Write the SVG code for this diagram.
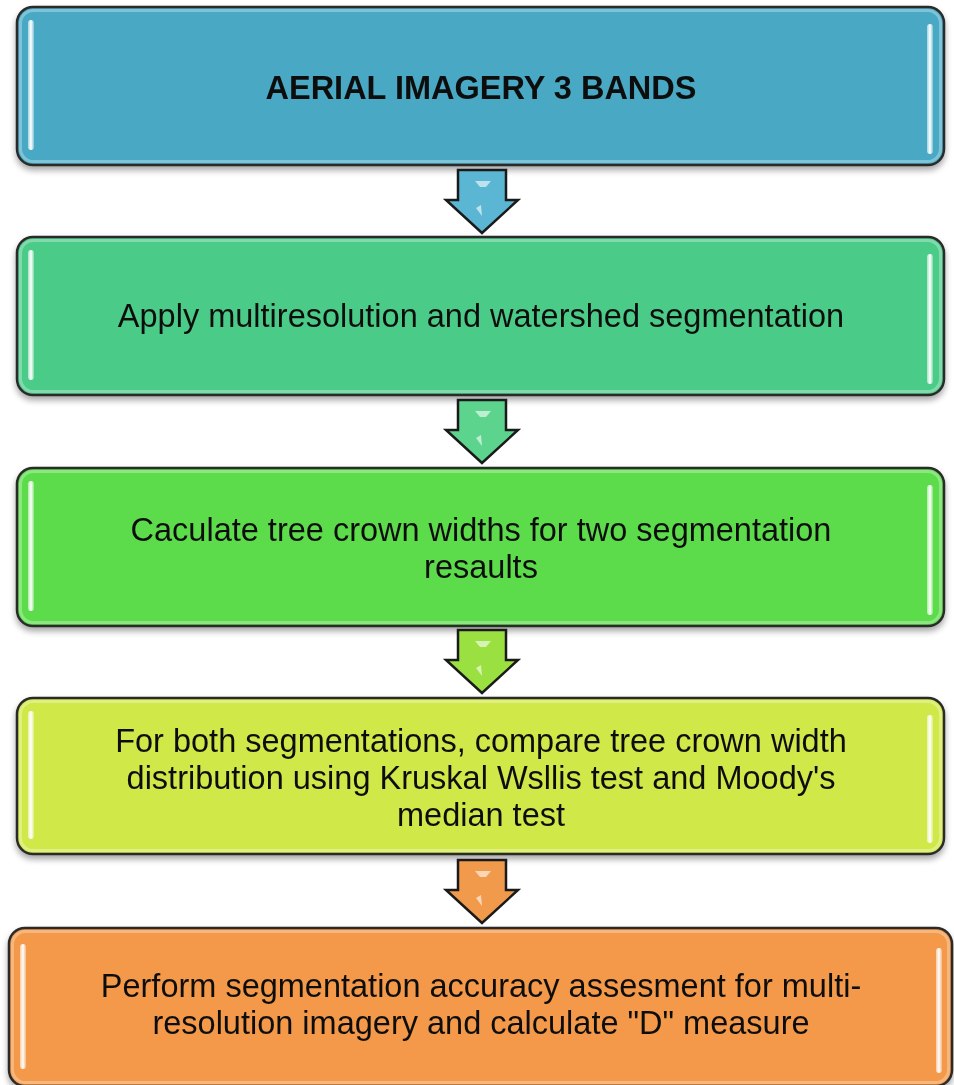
<svg xmlns="http://www.w3.org/2000/svg" width="954" height="1085" viewBox="0 0 954 1085">
<defs>
<filter id="sh" x="-5%" y="-10%" width="110%" height="130%">
<feGaussianBlur in="SourceAlpha" stdDeviation="3"/>
<feOffset dx="0" dy="4" result="b"/>
<feComponentTransfer><feFuncA type="linear" slope="0.35"/></feComponentTransfer>
<feMerge><feMergeNode/><feMergeNode in="SourceGraphic"/></feMerge>
</filter>
<linearGradient id="hl" x1="0" y1="0" x2="1" y2="0">
<stop offset="0" stop-color="#ffffff" stop-opacity="0.5"/>
<stop offset="0.5" stop-color="#ffffff" stop-opacity="1"/>
<stop offset="1" stop-color="#ffffff" stop-opacity="0.3"/>
</linearGradient>
</defs>
<style>
.box{stroke:#2b2b2b;stroke-width:2.5}
.rim{fill:none;stroke:#ffffff;stroke-opacity:0.3;stroke-width:3}
.hl{fill:url(#hl)}
.t{font-family:"Liberation Sans",Arial,sans-serif;font-size:32.5px;fill:#111;text-anchor:middle}
.tb{font-family:"Liberation Sans",Arial,sans-serif;font-size:32.5px;font-weight:bold;fill:#111;text-anchor:middle}
.arr{stroke:#1a1a1a;stroke-width:2.5;stroke-linejoin:miter}
.ahl{fill:#ffffff;fill-opacity:0.6}
</style>
<rect width="954" height="1085" fill="#ffffff"/>

<g id="n1" filter="url(#sh)">
<rect class="box" x="17" y="7" width="927" height="158" rx="16" fill="#48a9c4"/>
<rect class="rim" x="20.5" y="10.5" width="920" height="151" rx="13"/>
<rect class="hl" x="28" y="20" width="6" height="130" rx="3"/>
<rect class="hl" x="927" y="24" width="6" height="130" rx="3"/>
<text class="tb" x="481" y="99">AERIAL IMAGERY 3 BANDS</text>
</g>

<g id="n2" filter="url(#sh)">
<rect class="box" x="17" y="237" width="927" height="158" rx="16" fill="#4ccb88"/>
<rect class="rim" x="20.5" y="240.5" width="920" height="151" rx="13"/>
<rect class="hl" x="28" y="250" width="6" height="130" rx="3"/>
<rect class="hl" x="927" y="254" width="6" height="130" rx="3"/>
<text class="t" x="481" y="327">Apply multiresolution and watershed segmentation</text>
</g>

<g id="n3" filter="url(#sh)">
<rect class="box" x="17" y="468" width="927" height="158" rx="16" fill="#5cdc4b"/>
<rect class="rim" x="20.5" y="471.5" width="920" height="151" rx="13"/>
<rect class="hl" x="28" y="481" width="6" height="130" rx="3"/>
<rect class="hl" x="927" y="485" width="6" height="130" rx="3"/>
<text class="t" x="481" y="541">Caculate tree crown widths for two segmentation</text>
<text class="t" x="481" y="578">resaults</text>
</g>

<g id="n4" filter="url(#sh)">
<rect class="box" x="17" y="698" width="927" height="156" rx="16" fill="#d1e84a"/>
<rect class="rim" x="20.5" y="701.5" width="920" height="149" rx="13"/>
<rect class="hl" x="28" y="711" width="6" height="128" rx="3"/>
<rect class="hl" x="927" y="715" width="6" height="128" rx="3"/>
<text class="t" x="481" y="752">For both segmentations, compare tree crown width</text>
<text class="t" x="481" y="789">distribution using Kruskal Wsllis test and Moody's</text>
<text class="t" x="481" y="826">median test</text>
</g>

<g id="n5" filter="url(#sh)">
<rect class="box" x="9" y="928" width="943" height="158" rx="16" fill="#f39948"/>
<rect class="rim" x="12.5" y="931.5" width="936" height="151" rx="13"/>
<rect class="hl" x="20" y="944" width="6" height="125" rx="3"/>
<rect class="hl" x="936" y="948" width="6" height="125" rx="3"/>
<text class="t" x="481" y="997">Perform segmentation accuracy assesment for multi-</text>
<text class="t" x="481" y="1034">resolution imagery and calculate "D" measure</text>
</g>

<g id="connectors">
<g>
<path class="arr" d="M458,170 H506 V200 H518 L482,233 L446,200 H458 Z" fill="#5ab6d2"/>
<path class="ahl" d="M475,181 H491 L486,187 H480 Z"/>
<path class="ahl" d="M476,208 L481,205 L482,216 Z"/>
</g>
<g>
<path class="arr" d="M458,400 H506 V430 H518 L482,463 L446,430 H458 Z" fill="#5cd48e"/>
<path class="ahl" d="M475,411 H491 L486,417 H480 Z"/>
<path class="ahl" d="M476,438 L481,435 L482,446 Z"/>
</g>
<g>
<path class="arr" d="M458,630 H506 V660 H518 L482,693 L446,660 H458 Z" fill="#9be041"/>
<path class="ahl" d="M475,641 H491 L486,647 H480 Z"/>
<path class="ahl" d="M476,668 L481,665 L482,676 Z"/>
</g>
<g>
<path class="arr" d="M458,860 H506 V890 H518 L482,923 L446,890 H458 Z" fill="#f29a4c"/>
<path class="ahl" d="M475,871 H491 L486,877 H480 Z"/>
<path class="ahl" d="M476,898 L481,895 L482,906 Z"/>
</g>
</g>
</svg>
